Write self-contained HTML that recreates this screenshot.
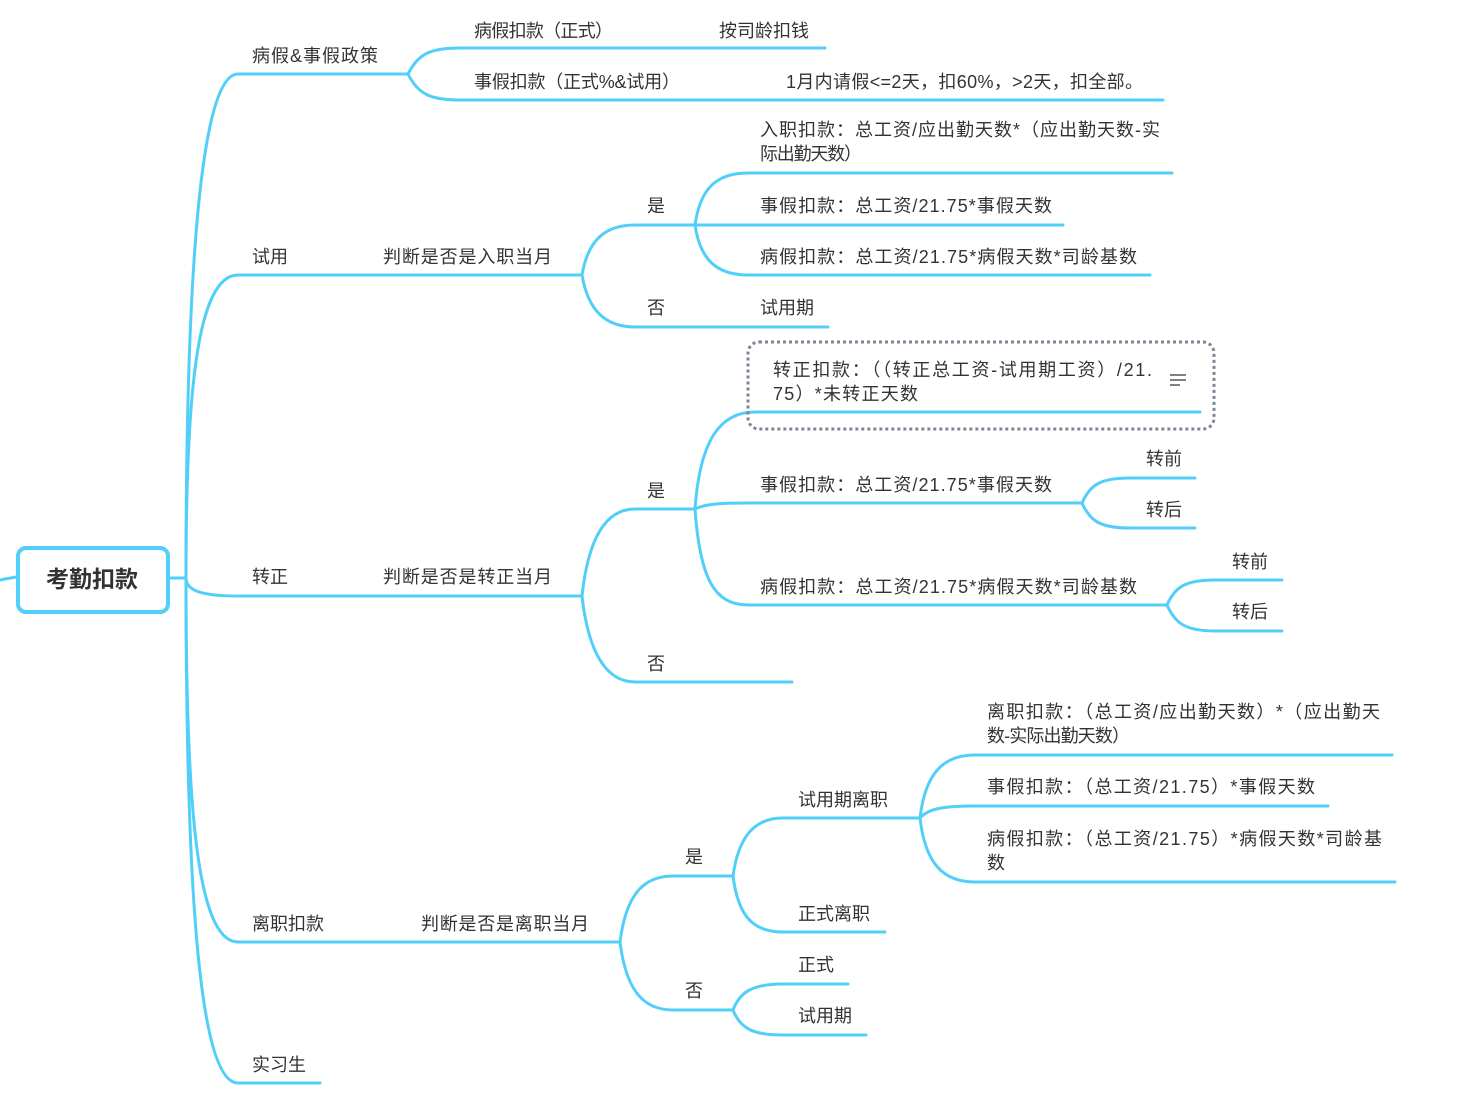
<!DOCTYPE html>
<html><head><meta charset="utf-8"><style>
html,body{margin:0;padding:0;background:#fff;}
svg{display:block;}
text{font-family:"Liberation Sans","Noto Sans CJK SC",sans-serif;font-size:18px;fill:#333;}
</style></head><body>
<svg width="1484" height="1112" viewBox="0 0 1484 1112" xmlns="http://www.w3.org/2000/svg">
<g fill="none" stroke="#52cff8" stroke-width="3" stroke-linecap="round">
<path d="M0 580 C5 579 10 578 17 577"/>
<path d="M169 578 L186 578"/>
<path d="M186 578 C186 300 198 74 238 74 L408 74"/>
<path d="M186 578 C186 400 196 275 238 275 L582 275"/>
<path d="M186 578 C186 590 200 596 238 596 L582 596"/>
<path d="M186 578 C186 800 196 942 238 942 L620 942"/>
<path d="M186 578 C186 900 200 1083 238 1083 L320 1083"/>
<path d="M408 74 C418 54 430 48 460 48 L825 48"/>
<path d="M408 74 C418 94 430 100 460 100 L1163 100"/>
<path d="M582 275 C588 240 605 225 635 225 L695 225"/>
<path d="M582 275 C588 310 605 327 635 327 L828 327"/>
<path d="M695 225 C700 190 715 173 748 173 L1172 173"/>
<path d="M695 225 L1063 225"/>
<path d="M695 225 C700 258 715 275 748 275 L1150 275"/>
<path d="M582 596 C588 540 605 509 635 509 L695 509"/>
<path d="M582 596 C588 650 605 682 635 682 L792 682"/>
<path d="M695 509 C700 440 720 412 755 412 L1200 412"/>
<path d="M695 509 C705 504 720 503 748 503 L1082 503"/>
<path d="M695 509 C700 580 715 605 748 605 L1167 605"/>
<path d="M1082 503 C1090 485 1100 478 1130 478 L1195 478"/>
<path d="M1082 503 C1090 521 1100 528 1130 528 L1195 528"/>
<path d="M1167 605 C1175 587 1185 580 1215 580 L1282 580"/>
<path d="M1167 605 C1175 623 1185 631 1215 631 L1282 631"/>
<path d="M620 942 C626 895 643 876 673 876 L733 876"/>
<path d="M620 942 C626 990 643 1010 673 1010 L733 1010"/>
<path d="M733 876 C738 840 752 818 783 818 L920 818"/>
<path d="M733 876 C738 915 752 932 783 932 L885 932"/>
<path d="M920 818 C925 775 942 755 975 755 L1392 755"/>
<path d="M920 818 C928 809 942 806 975 806 L1328 806"/>
<path d="M920 818 C925 862 942 882 975 882 L1395 882"/>
<path d="M733 1010 C740 992 752 984 783 984 L848 984"/>
<path d="M733 1010 C740 1028 752 1035 783 1035 L866 1035"/>
</g>
<rect x="18" y="548" width="150" height="64" rx="8" fill="#fff" stroke="#52cff8" stroke-width="4"/>
<text x="92" y="587" text-anchor="middle" style="font-size:23px;font-weight:bold;fill:#333">考勤扣款</text>
<rect x="748" y="342" width="466" height="87" rx="11" fill="none" stroke="#7d8594" stroke-width="3" stroke-dasharray="3 3"/>
<g stroke="#555" stroke-width="1.5"><line x1="1170" y1="375" x2="1186" y2="375"/><line x1="1170" y1="380" x2="1186" y2="380"/><line x1="1170" y1="385" x2="1180" y2="385"/></g>
<text x="252" y="62" textLength="126" lengthAdjust="spacing">病假&amp;事假政策</text>
<text x="474" y="37" textLength="139" lengthAdjust="spacing">病假扣款（正式）</text>
<text x="719" y="37">按司龄扣钱</text>
<text x="474" y="88" textLength="206" lengthAdjust="spacing">事假扣款（正式%&amp;试用）</text>
<text x="786" y="88" textLength="357" lengthAdjust="spacing">1月内请假&lt;=2天，扣60%，&gt;2天，扣全部。</text>
<text x="252" y="263">试用</text>
<text x="383" y="263" textLength="169" lengthAdjust="spacing">判断是否是入职当月</text>
<text x="647" y="212">是</text>
<text x="647" y="314">否</text>
<text x="760" y="136" textLength="400" lengthAdjust="spacing">入职扣款：总工资/应出勤天数*（应出勤天数-实</text>
<text x="760" y="160" textLength="102" lengthAdjust="spacing">际出勤天数）</text>
<text x="760" y="212" textLength="292" lengthAdjust="spacing">事假扣款：总工资/21.75*事假天数</text>
<text x="760" y="263" textLength="377" lengthAdjust="spacing">病假扣款：总工资/21.75*病假天数*司龄基数</text>
<text x="760" y="314">试用期</text>
<text x="252" y="583">转正</text>
<text x="383" y="583" textLength="169" lengthAdjust="spacing">判断是否是转正当月</text>
<text x="647" y="497">是</text>
<text x="647" y="670">否</text>
<text x="773" y="376" textLength="379" lengthAdjust="spacing">转正扣款：（（转正总工资-试用期工资）/21.</text>
<text x="773" y="400" textLength="145" lengthAdjust="spacing">75）*未转正天数</text>
<text x="760" y="491" textLength="292" lengthAdjust="spacing">事假扣款：总工资/21.75*事假天数</text>
<text x="760" y="593" textLength="377" lengthAdjust="spacing">病假扣款：总工资/21.75*病假天数*司龄基数</text>
<text x="1146" y="465">转前</text>
<text x="1146" y="516">转后</text>
<text x="1232" y="568">转前</text>
<text x="1232" y="618">转后</text>
<text x="252" y="930">离职扣款</text>
<text x="421" y="930" textLength="168" lengthAdjust="spacing">判断是否是离职当月</text>
<text x="685" y="863">是</text>
<text x="685" y="997">否</text>
<text x="798" y="806">试用期离职</text>
<text x="798" y="920">正式离职</text>
<text x="987" y="718" textLength="393" lengthAdjust="spacing">离职扣款：（总工资/应出勤天数）*（应出勤天</text>
<text x="987" y="742" textLength="143" lengthAdjust="spacing">数-实际出勤天数）</text>
<text x="987" y="793" textLength="328" lengthAdjust="spacing">事假扣款：（总工资/21.75）*事假天数</text>
<text x="987" y="845" textLength="395" lengthAdjust="spacing">病假扣款：（总工资/21.75）*病假天数*司龄基</text>
<text x="987" y="869">数</text>
<text x="798" y="971">正式</text>
<text x="798" y="1022">试用期</text>
<text x="252" y="1071">实习生</text>
</svg>
</body></html>
